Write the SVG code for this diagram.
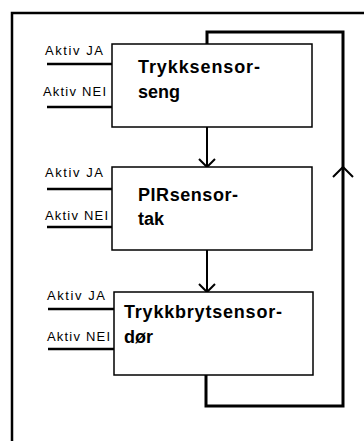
<svg xmlns="http://www.w3.org/2000/svg" width="364" height="441" viewBox="0 0 364 441">
<defs>
<style>
.frame{fill:none;stroke:#000;stroke-width:2.5}
.box{fill:#fff;stroke:#000;stroke-width:1.5}
.in{stroke:#000;stroke-width:2.5;fill:none}
.loop{fill:none;stroke:#000;stroke-width:3}
.arr{fill:none;stroke:#000;stroke-width:2}
.lbl{font-family:"Liberation Sans",Arial,sans-serif;font-size:13px;fill:#000}
.t{font-family:"Liberation Sans",Arial,sans-serif;font-size:18px;font-weight:bold;fill:#000}
</style>
</defs>
<rect width="364" height="441" fill="#fff"/>
<path class="frame" d="M12,441 V13 H364"/>
<g id="connectors">
<path class="loop" d="M207,44 V32 H343 V406 H206 V375"/>
<path class="arr" d="M333,177 L343,167 L353,177"/>
<path class="arr" d="M207,127 V167 M199,159 L207,167 L215,159"/>
<path class="arr" d="M207,250 V292 M199,284 L207,292 L215,284"/>
</g>
<g id="node1">
<line class="in" x1="47" y1="64" x2="112" y2="64"/>
<line class="in" x1="47" y1="107" x2="112" y2="107"/>
<text class="lbl" x="45" y="55" textLength="58" lengthAdjust="spacing">Aktiv JA</text>
<text class="lbl" x="43" y="96" textLength="63" lengthAdjust="spacing">Aktiv NEI</text>
<rect class="box" x="112" y="44" width="200" height="83"/>
<text class="t" x="138" y="73" textLength="122" lengthAdjust="spacing">Trykksensor-</text>
<text class="t" x="138" y="98">seng</text>
</g>
<g id="node2">
<line class="in" x1="47" y1="189" x2="112" y2="189"/>
<line class="in" x1="47" y1="227" x2="112" y2="227"/>
<text class="lbl" x="45" y="177" textLength="58" lengthAdjust="spacing">Aktiv JA</text>
<text class="lbl" x="45" y="220" textLength="63" lengthAdjust="spacing">Aktiv NEI</text>
<rect class="box" x="112" y="167" width="200" height="83"/>
<text class="t" x="138" y="201" textLength="100" lengthAdjust="spacing">PIRsensor-</text>
<text class="t" x="138" y="225">tak</text>
</g>
<g id="node3">
<line class="in" x1="48" y1="309" x2="114" y2="309"/>
<line class="in" x1="48" y1="349" x2="114" y2="349"/>
<text class="lbl" x="47" y="300" textLength="58" lengthAdjust="spacing">Aktiv JA</text>
<text class="lbl" x="47" y="341" textLength="63" lengthAdjust="spacing">Aktiv NEI</text>
<rect class="box" x="114" y="292" width="199" height="83"/>
<text class="t" x="124" y="318" textLength="158" lengthAdjust="spacing">Trykkbrytsensor-</text>
<text class="t" x="124" y="343">dør</text>
</g>
</svg>
